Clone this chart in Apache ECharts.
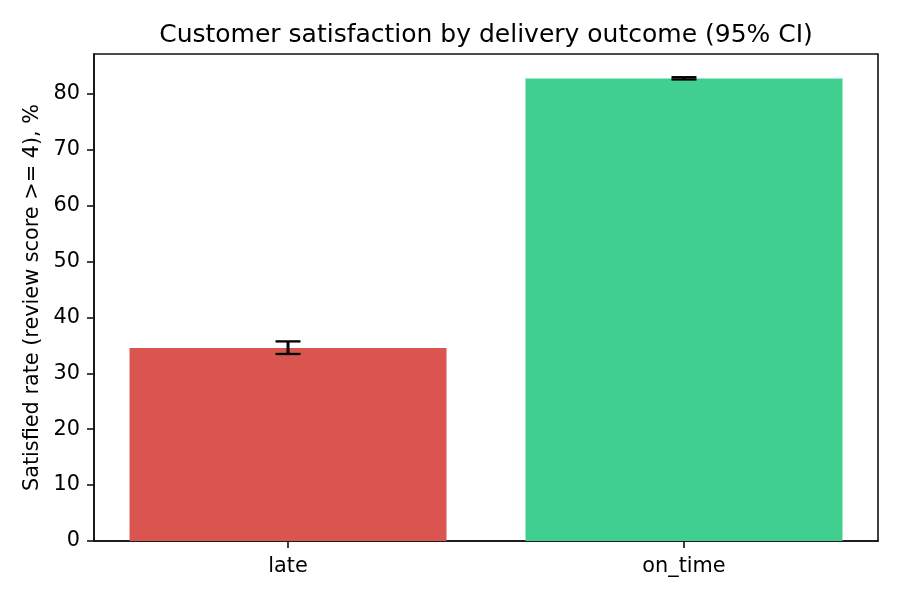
<!DOCTYPE html>
<html><head><meta charset="utf-8">
<script src="https://cdn.jsdelivr.net/npm/echarts@6/dist/echarts.min.js"></script>
<style>html,body{margin:0;padding:0;background:#fff}#c{width:900px;height:600px}</style>
</head><body><div id="c"></div>
<script>
var categories = ['late', 'on_time'];
var rates = [34.5, 82.7];
var ciLow = [33.45, 82.55];
var ciHigh = [35.7, 82.95];
var barColors = ['#db5550', '#40cf8e'];
var yTicks = [0, 10, 20, 30, 40, 50, 60, 70, 80];
var xTicks = [0, 1];

var chart = echarts.init(document.getElementById('c'), null, {renderer: 'canvas'});
var font = 'DejaVu Sans';
chart.setOption({
  animation: false,
  backgroundColor: '#fff',
  title: {
    text: 'Customer satisfaction by delivery outcome (95% CI)',
    left: 486, top: 23, padding: 0, textAlign: 'center',
    textStyle: {fontFamily: font, fontSize: 25, fontWeight: 'normal', color: '#000'}
  },
  grid: {left: 94, right: 22, top: 54, bottom: 59, show: true, borderColor: '#111', borderWidth: 1.6, backgroundColor: 'transparent'},
  xAxis: {
    type: 'value', min: -0.49, max: 1.49,
    axisLine: {show: true, onZero: false, lineStyle: {color: '#111', width: 1.6}},
    axisTick: {show: true, length: 7, lineStyle: {color: '#111', width: 1.6}, customValues: xTicks},
    axisLabel: {fontFamily: font, fontSize: 20.8, color: '#000', margin: 15, customValues: xTicks,
      formatter: function (v) { return categories[Math.round(v)]; }},
    splitLine: {show: false}
  },
  yAxis: {
    type: 'value', min: 0, max: 87.1, interval: 10,
    name: 'Satisfied rate (review score >= 4), %',
    nameLocation: 'middle', nameGap: 49, nameRotate: 90,
    nameTextStyle: {fontFamily: font, fontSize: 20.8, color: '#000'},
    axisLine: {show: true, onZero: false, lineStyle: {color: '#111', width: 1.6}},
    axisTick: {show: true, length: 7, lineStyle: {color: '#111', width: 1.6}, customValues: yTicks},
    axisLabel: {fontFamily: font, fontSize: 20.8, color: '#000', margin: 14, customValues: yTicks},
    splitLine: {show: false}
  },
  series: [
    {
      type: 'bar', barWidth: 317,
      data: rates.map(function (v, i) { return {value: [i, v], itemStyle: {color: barColors[i]}}; }),
      z: 2
    },
    {
      type: 'custom', z: 5,
      data: categories.map(function (c, i) { return [i, ciLow[i], ciHigh[i]]; }),
      renderItem: function (params, api) {
        var x = api.value(0);
        var lo = api.coord([x, api.value(1)]);
        var hi = api.coord([x, api.value(2)]);
        var hw = 12.5;
        var cap = {stroke: '#000', lineWidth: 2.3};
        return {type: 'group', children: [
          {type: 'line', shape: {x1: lo[0], y1: lo[1], x2: hi[0], y2: hi[1]}, style: {stroke: '#000', lineWidth: 3}},
          {type: 'line', shape: {x1: lo[0] - hw, y1: lo[1], x2: lo[0] + hw, y2: lo[1]}, style: cap},
          {type: 'line', shape: {x1: hi[0] - hw, y1: hi[1], x2: hi[0] + hw, y2: hi[1]}, style: cap}
        ]};
      }
    }
  ]
});
</script></body></html>
